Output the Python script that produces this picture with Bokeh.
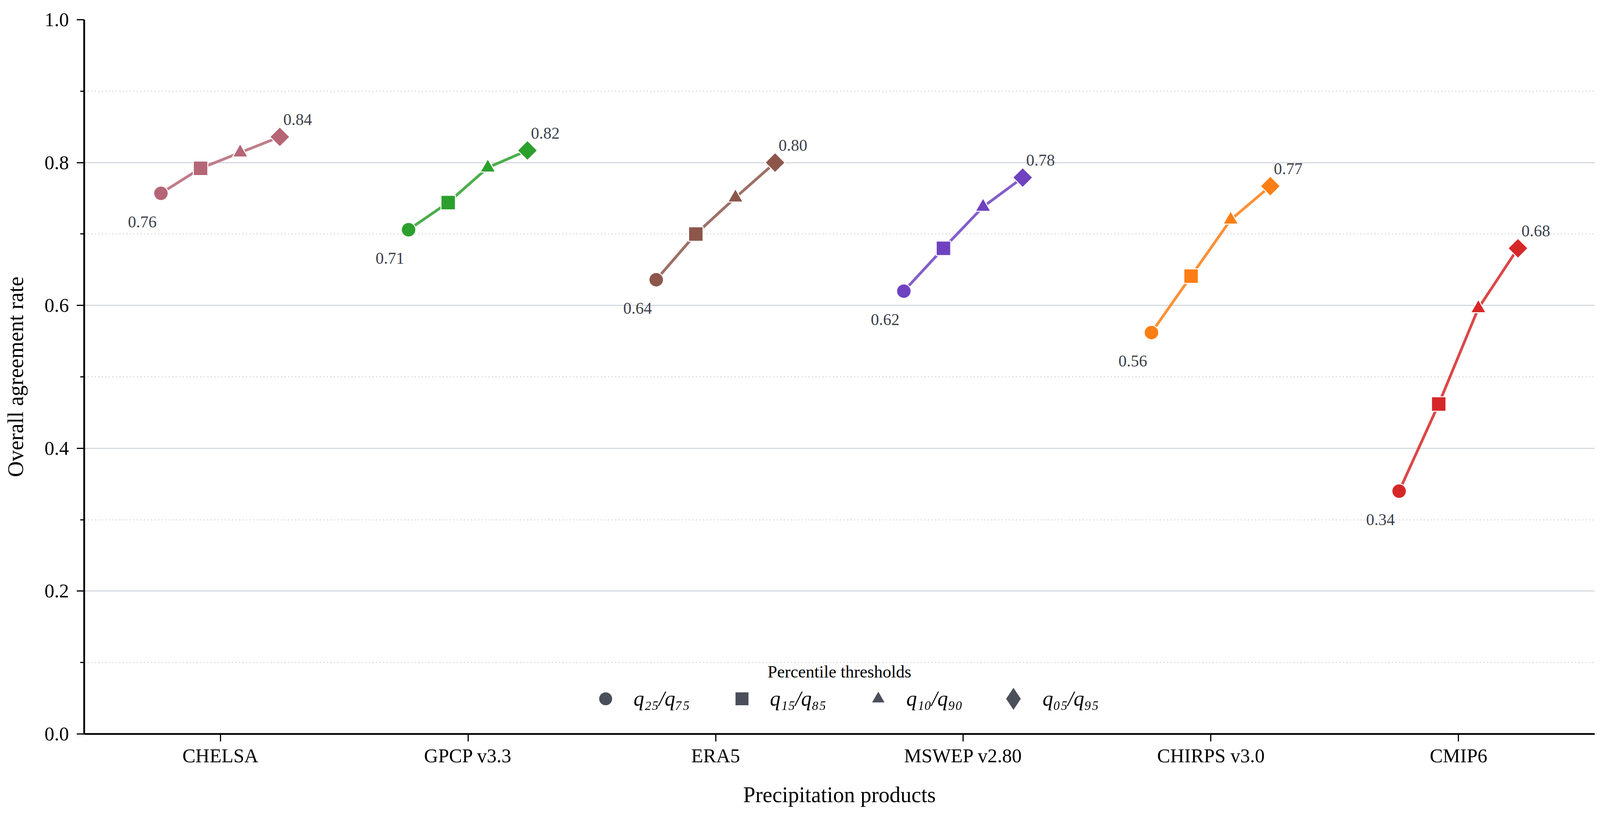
import numpy as np
from bokeh.plotting import figure
from bokeh.models import (Range1d, FixedTicker, SingleIntervalTicker, Legend,
                          LegendItem, Label, ColumnDataSource, NumeralTickFormatter)
from bokeh.core.properties import value
from bokeh.embed import file_html
from bokeh.resources import INLINE

# ---------------- data ----------------
products = ["CHELSA", "GPCP v3.3", "ERA5", "MSWEP v2.80", "CHIRPS v3.0", "CMIP6"]
threshold_labels = ["q\u2082\u2085/q\u2087\u2085", "q\u2081\u2085/q\u2088\u2085",
                    "q\u2081\u2080/q\u2089\u2080", "q\u2080\u2085/q\u2089\u2085"]
q25_q75 = [0.757, 0.706, 0.636, 0.620, 0.562, 0.340]
q15_q85 = [0.792, 0.744, 0.700, 0.680, 0.641, 0.462]
q10_q90 = [0.814, 0.793, 0.751, 0.738, 0.720, 0.596]
q05_q95 = [0.836, 0.817, 0.800, 0.779, 0.767, 0.680]
colors = ["#b56576", "#2ca02c", "#8c564b", "#6f42c1", "#fd7e14", "#d62728"]

series = [q25_q75, q15_q85, q10_q90, q05_q95]
offsets = [-0.24, -0.08, 0.08, 0.24]
markers = ["circle", "square", "triangle", "square"]
legend_markers = ["circle", "square", "triangle", "diamond"]
angles = [0.0, 0.0, 0.0, np.pi / 4]
sizes = [37, 37, 39, 36]
legend_gray = "#4b4f5a"
FONT = "Liberation Serif"

p = figure(frame_width=3867, frame_height=1828,
           x_range=Range1d(-0.55, 5.55), y_range=Range1d(0, 1),
           output_backend="svg", toolbar_location=None,
           min_border_left=215, min_border_right=32,
           min_border_top=50, min_border_bottom=197)
p.outline_line_color = None
p.background_fill_color = "white"

# grid
p.xgrid.grid_line_color = None
p.ygrid.grid_line_color = "#d5d9e1"
p.ygrid.grid_line_width = 3
p.ygrid.minor_grid_line_color = "#d9dce3"
p.ygrid.minor_grid_line_width = 3
p.ygrid.minor_grid_line_dash = "3 6"

# axes
p.xaxis.ticker = FixedTicker(ticks=list(range(len(products))))
p.xaxis.major_label_overrides = {i: name for i, name in enumerate(products)}
p.yaxis.ticker = SingleIntervalTicker(interval=0.2, num_minor_ticks=2)
p.yaxis.formatter = NumeralTickFormatter(format="0.0")
for ax in (p.xaxis[0], p.yaxis[0]):
    ax.axis_line_width = 4.5
    ax.axis_line_color = "black"
    ax.major_tick_line_width = 3
    ax.minor_tick_line_width = 3
    ax.major_tick_in = 0
    ax.minor_tick_in = 0
    ax.major_label_text_font = FONT
    ax.major_label_text_font_size = "50px"
    ax.major_label_text_color = "black"
    ax.axis_label_text_font = FONT
    ax.axis_label_text_font_size = "56px"
    ax.axis_label_text_font_style = "normal"
    ax.axis_label_text_color = "black"
p.xaxis.major_tick_out = 19
p.xaxis.minor_tick_out = 0
p.xaxis.major_label_standoff = 8
p.xaxis.axis_label = "Precipitation products"
p.xaxis.axis_label_standoff = 38
p.yaxis.major_tick_out = 19
p.yaxis.minor_tick_out = 10
p.yaxis.major_label_standoff = 20
p.yaxis.axis_label = "Overall agreement rate"
p.yaxis.axis_label_standoff = 40

# lines per product
for i, (name, c) in enumerate(zip(products, colors)):
    xs = [i + o for o in offsets]
    ys = [s[i] for s in series]
    p.line(xs, ys, line_color=c, line_width=7, line_alpha=0.85)

# markers per threshold
for k, s in enumerate(series):
    src = ColumnDataSource(dict(x=[i + offsets[k] for i in range(len(products))],
                                y=s, color=colors))
    p.scatter("x", "y", source=src, marker=markers[k], angle=angles[k],
              size=sizes[k], fill_color="color", line_color="white", line_width=2.5)

# value annotations
first_src = ColumnDataSource(dict(x=[i + offsets[0] for i in range(len(products))],
                                  y=q25_q75, t=[f"{v:.2f}" for v in q25_q75]))
last_src = ColumnDataSource(dict(x=[i + offsets[-1] for i in range(len(products))],
                                 y=q05_q95, t=[f"{v:.2f}" for v in q05_q95]))
p.text("x", "y", text="t", source=first_src, x_offset=-11, y_offset=73,
       text_align="right", text_baseline="alphabetic", text_font=value(FONT),
       text_font_size="42px", text_color="#3b3f4a")
p.text("x", "y", text="t", source=last_src, x_offset=9, y_offset=-44,
       text_align="left", text_baseline="alphabetic", text_font=value(FONT),
       text_font_size="42px", text_color="#3b3f4a")

# legend (proxy renderers with no visible data)
items = []
for k, lab in enumerate(threshold_labels):
    psrc = ColumnDataSource(dict(x=[np.nan], y=[np.nan]))
    r = p.scatter("x", "y", source=psrc, marker=legend_markers[k],
                  size=sizes[k], fill_color=legend_gray, line_color="white", line_width=2)
    items.append(LegendItem(label=lab, renderers=[r], index=0))

legend_style = dict(orientation="horizontal", padding=0, margin=0,
                    background_fill_alpha=0, border_line_alpha=0,
                    label_text_font=FONT, label_text_font_size="54px",
                    label_text_font_style="italic", label_text_color="black")
legend_a = Legend(items=items[:3], location=(1291, 46), glyph_width=88, glyph_height=88,
                  label_standoff=28, spacing=89, **legend_style)
legend_b = Legend(items=items[3:], location=(2304, 15), glyph_width=150, glyph_height=150,
                  label_standoff=0, spacing=0, **legend_style)
p.add_layout(legend_a, "center")
p.add_layout(legend_b, "center")
p.add_layout(Label(x=2.5, y=0.087, text="Percentile thresholds", text_align="center",
                   text_baseline="middle", text_font=FONT, text_font_size="44px",
                   text_color="black"))

open("out.html", "w").write(file_html(p, INLINE))
